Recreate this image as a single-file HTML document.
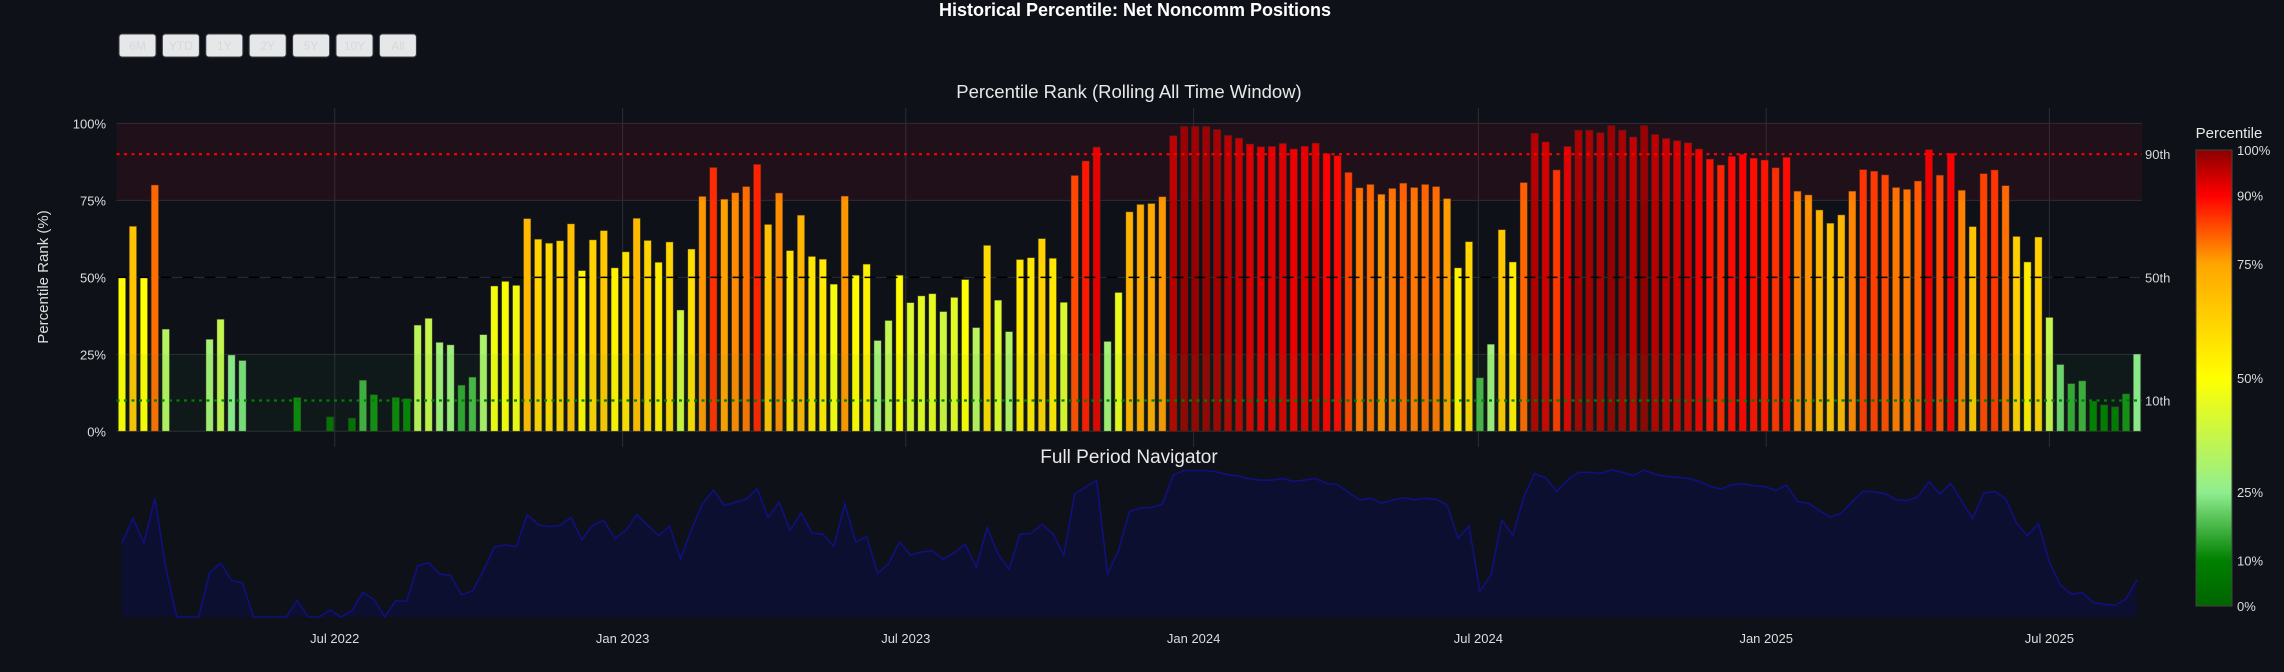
<!DOCTYPE html>
<html><head><meta charset="utf-8">
<style>
html,body{margin:0;padding:0;background:#0e1118;}
svg{display:block;font-family:"Liberation Sans",sans-serif;}
</style></head>
<body>
<svg id="chart" width="2284" height="672" viewBox="0 0 2284 672">
<rect x="0" y="0" width="2284" height="672" fill="#0e1118"/>
<text x="1135" y="16" text-anchor="middle" fill="#ffffff" font-size="18" font-weight="bold">Historical Percentile: Net Noncomm Positions</text>
<g id="buttons"></g>
<text x="1129" y="98" text-anchor="middle" fill="#e8e8e8" font-size="18.5">Percentile Rank (Rolling All Time Window)</text>
<text x="1129" y="463" text-anchor="middle" fill="#e8e8e8" font-size="19">Full Period Navigator</text>
<text transform="translate(48,277) rotate(-90)" text-anchor="middle" fill="#dddddd" font-size="15">Percentile Rank (%)</text>
<g id="grid"></g>
<g id="bars"></g>
<g id="overlay"></g>
<g id="nav"></g>
<g id="cbar"></g>
</svg>
<script>
const percentiles = [50,66.6,50,80,33.2,0,0,0,29.9,36.4,24.8,23,0,0,0,0,11,0,0,4.7,0,4.3,16.6,11.9,0,11,10.6,34.5,36.7,28.9,28.1,15,17.6,31.4,47.2,48.7,47.4,69.1,62.4,61.1,61.9,67.4,52.2,62.2,65.2,53.1,58.3,69.2,62,54.9,61.5,39.4,59.2,76.3,85.7,75.4,77.5,79.5,86.7,67.2,77.4,58.7,70.2,56.8,55.9,47.8,76.4,50.7,54.3,29.5,36,50.7,41.8,44,44.7,38.9,43.5,49.3,33.7,60.4,42.6,32.4,55.8,56.4,62.6,56.2,41.9,83.1,87.8,92.3,29.2,45.1,71.3,73.7,74,76.2,96,99,99,99,98,96.1,95.2,93.3,92.4,92.5,93.5,91.7,92.6,93.6,90.2,89.5,84.1,79.1,80.2,77,78.9,80.6,79.2,80.2,79.5,75.6,53.1,61.6,17.4,28.3,65.5,55,80.8,96.8,94,84.9,92.5,97.8,97.8,97,99.3,97.8,95.6,99.3,96.4,95.1,94.4,93.7,91.7,88.4,86.5,89.3,90,88.7,88.1,85.6,89,78,76.8,71.9,67.6,70.3,78,85,84.5,83.3,79.2,78.6,81.3,91.5,83.2,90.3,78.3,66.5,83.7,84.9,79.8,63.3,55,63.1,37,21.7,15.5,16.4,9.8,8.6,8,12.2,25.1];
const startDate = "2022-02-15";
const yTicks = [0,25,50,75,100];
const yTickLabels = ["0%","25%","50%","75%","100%"];
const xTickDates = ["2022-07-01","2023-01-01","2023-07-01","2024-01-01","2024-07-01","2025-01-01","2025-07-01"];
const xTickLabels = ["Jul 2022","Jan 2023","Jul 2023","Jan 2024","Jul 2024","Jan 2025","Jul 2025"];
const refLevels = [90,50,10];
const refLabels = ["90th","50th","10th"];
const cbTicks = [0,10,25,50,75,90,100];
const cbTickLabels = ["0%","10%","25%","50%","75%","90%","100%"];
const buttonLabels = ["6M","YTD","1Y","2Y","5Y","10Y","All"];

const NS="http://www.w3.org/2000/svg";
function mk(tag,attrs,parent){const e=document.createElementNS(NS,tag);for(const k in attrs)e.setAttribute(k,attrs[k]);parent.appendChild(e);return e;}
const stops=[[0,[0,100,0]],[0.1,[0,128,0]],[0.25,[144,238,144]],[0.5,[255,255,0]],[0.75,[255,165,0]],[0.9,[255,0,0]],[1,[139,0,0]]];
function colorAt(v){v=Math.max(0,Math.min(1,v));for(let i=1;i<stops.length;i++){if(v<=stops[i][0]){const a=stops[i-1],b=stops[i];const t=(v-a[0])/(b[0]-a[0]);const c=a[1].map((x,j)=>Math.round(x+(b[1][j]-x)*t));return `rgb(${c[0]},${c[1]},${c[2]})`;}}return "rgb(139,0,0)";}

const t0=new Date(startDate+"T00:00:00Z").getTime();
const WEEK=7*864e5;
const X0=122, STEP=10.951;
function xDate(ms){return X0+(ms-t0)/WEEK*STEP;}
function xIdx(i){return X0+i*STEP;}
const PL=116.5, PR=2142;
function y(v){return 431.3-(v/100)*307.9;}
function yNav(v){return 617-(v/100)*148;}

const bg=document.getElementById('buttons');
buttonLabels.forEach((lab,i)=>{
  const g=mk('g',{},bg);
  
  
  mk('rect',{x:119+i*43.4,y:34,width:37,height:23,rx:3,fill:'#e6e7e8',stroke:'#3a3d45','stroke-width':1},g);
  const t=mk('text',{x:119+i*43.4+18.5,y:50,'text-anchor':'middle','font-size':12,fill:'#d6d8dc'},g);
  t.textContent=lab;
});

const grid=document.getElementById('grid');
yTicks.forEach((v,i)=>{
  const l=mk('line',{x1:PL,x2:PR,y1:y(v),y2:y(v),stroke:'#2b2e36','stroke-width':1},grid);
  
  
  const t=mk('text',{x:106,y:y(v)+5,'text-anchor':'end','font-size':13,fill:'#dddddd'},grid);
  
  
  t.textContent=yTickLabels[i];
});
xTickDates.forEach((d,i)=>{
  const xx=xDate(new Date(d+"T00:00:00Z").getTime());
  const l=mk('line',{x1:xx,x2:xx,y1:108,y2:447,stroke:'#2b2e36','stroke-width':1},grid);
  
  
  const t=mk('text',{x:xx,y:643,'text-anchor':'middle','font-size':13,fill:'#dddddd'},grid);
  
  
  t.textContent=xTickLabels[i];
});

const bars=document.getElementById('bars');
const BW=7.4;
percentiles.forEach((v,i)=>{
  if(v<=0)return;
  const r=mk('rect',{x:xIdx(i)-BW/2,y:y(v),width:BW,height:y(0)-y(v),fill:colorAt(v/100),stroke:'rgba(50,40,30,0.6)','stroke-width':0.8},bars);
  
  
});

const ov=document.getElementById('overlay');
const hb=mk('rect',{x:PL,y:y(100),width:PR-PL,height:y(75)-y(100),fill:'rgba(255,20,40,0.075)'},ov);


const lb=mk('rect',{x:PL,y:y(25),width:PR-PL,height:y(0)-y(25),fill:'rgba(40,160,60,0.06)'},ov);


const refStyles=[{stroke:'#ff0000',dash:'3,4.5',w:2.2},{stroke:'#000000',dash:'11,11',w:1.5},{stroke:'#008000',dash:'3,4.5',w:2.2}];
refLevels.forEach((v,i)=>{
  const s=refStyles[i];
  const l=mk('line',{x1:PL,x2:PR,y1:y(v),y2:y(v),stroke:s.stroke,'stroke-width':s.w,'stroke-dasharray':s.dash},ov);
  
  
  const t=mk('text',{x:2145,y:y(v)+5,'font-size':13,fill:'#d8d8d8'},ov);
  
  
  t.textContent=refLabels[i];
});

const nav=document.getElementById('nav');
let pts=percentiles.map((v,i)=>xIdx(i).toFixed(1)+','+yNav(v).toFixed(1));
const area=mk('path',{d:'M'+xIdx(0)+','+yNav(0)+' L'+pts.join(' L')+' L'+xIdx(percentiles.length-1)+','+yNav(0)+' Z',fill:'#0c0f30',stroke:'none'},nav);


const line=mk('polyline',{points:pts.join(' '),fill:'none',stroke:'#10107e','stroke-width':1.6},nav);



const cb=document.getElementById('cbar');
const defs=mk('defs',{},cb);
const grad=mk('linearGradient',{id:'cbg',x1:0,y1:1,x2:0,y2:0},defs);
stops.forEach(s=>mk('stop',{offset:s[0],'stop-color':`rgb(${s[1].join(',')})`},grad));
const CBT=150, CBB=606;
function yCb(v){return CBB-(v/100)*(CBB-CBT);}
const cr=mk('rect',{x:2196,y:CBT,width:36,height:CBB-CBT,fill:'url(#cbg)',stroke:'#444444','stroke-width':1},cb);


const ct=mk('text',{x:2229,y:138,'text-anchor':'middle','font-size':15,fill:'#e8e8e8'},cb);


ct.textContent='Percentile';
cbTicks.forEach((v,i)=>{
  const t=mk('text',{x:2237,y:yCb(v)+5,'font-size':13,fill:'#dddddd'},cb);
  
  
  t.textContent=cbTickLabels[i];
});
</script>
</body></html>
